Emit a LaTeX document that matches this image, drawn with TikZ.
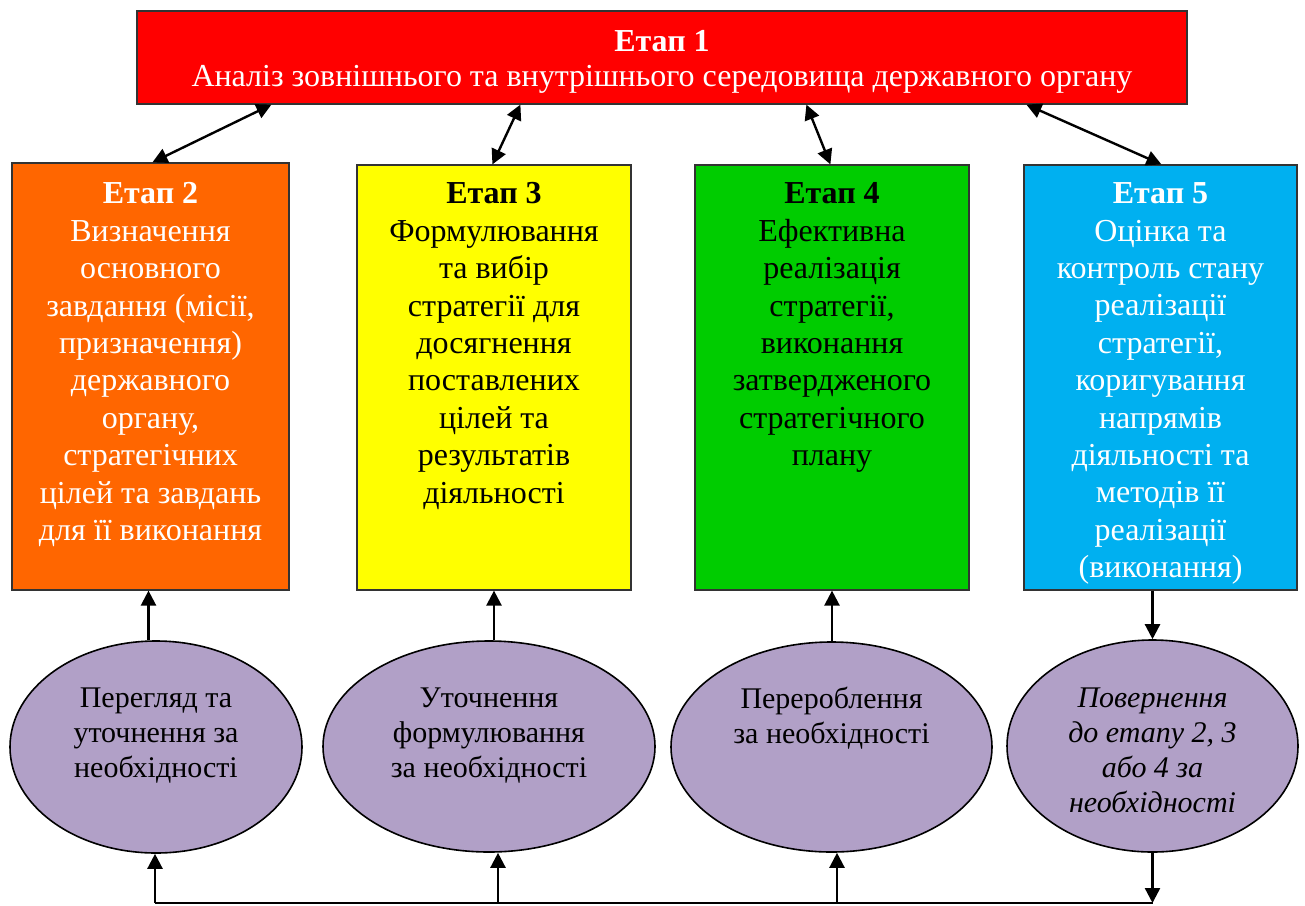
\documentclass[tikz,border=0pt]{standalone}
\usepackage{fontspec}
\setmainfont{Liberation Serif}
\usetikzlibrary{arrows.meta,shapes.geometric,calc}
\definecolor{cRed}{HTML}{FF0000}
\definecolor{cOrange}{HTML}{FF6600}
\definecolor{cYellow}{HTML}{FFFF00}
\definecolor{cGreen}{HTML}{00CC00}
\definecolor{cBlue}{HTML}{00B0F0}
\definecolor{cLav}{HTML}{B1A0C7}
\definecolor{cBorder}{HTML}{333333}
\tikzset{
  x=0.5pt, y=-0.5pt,
  stagebox/.style={draw=cBorder, line width=0.6pt, inner sep=0pt, rectangle},
  ovalbox/.style={draw=black, line width=0.8pt, ellipse, inner sep=0pt, fill=cLav},
  boxtext/.style={inner sep=0pt, align=center, anchor=north, font=\fontsize{16}{18.7}\selectfont},
  ovaltext/.style={inner sep=0pt, align=center, anchor=north, font=\fontsize{15}{17.5}\selectfont},
  arr/.style={line width=1.2pt, -{Triangle[length=7.5pt,width=7.5pt]}},
  dblarr/.style={line width=1.2pt, {Triangle[length=7.5pt,width=7.5pt]}-{Triangle[length=7.5pt,width=7.5pt]}},
  plainline/.style={line width=1.2pt}
}
\begin{document}
\begin{tikzpicture}
\useasboundingbox (0,0) rectangle (1305,905);
% top box
\node[stagebox, fill=cRed, minimum width=525pt, minimum height=46.5pt] (s1) at (662,57.5) {};
\node[text=white, align=center, inner sep=0pt, font=\fontsize{16}{17.5}\selectfont] (t1) at ([yshift=-2pt]s1.center)
  {\textbf{Етап 1}\\Аналіз зовнішнього та внутрішнього середовища державного органу};
% stage boxes
\node[stagebox, fill=cOrange, minimum width=138.5pt, minimum height=213.5pt] (s2) at (150.5,376.5) {};
\node[stagebox, fill=cYellow, minimum width=137pt, minimum height=212.5pt] (s3) at (494,377.5) {};
\node[stagebox, fill=cGreen, minimum width=137pt, minimum height=212.5pt] (s4) at (832,377.5) {};
\node[stagebox, fill=cBlue, minimum width=136.5pt, minimum height=212.5pt] (s5) at (1160.5,377.5) {};
\node[boxtext, text=white] (t2) at ([yshift=-10pt]s2.north)
  {\textbf{Етап 2}\\Визначення\\основного\\завдання (місії,\\призначення)\\державного\\органу,\\стратегічних\\цілей та завдань\\для її виконання};
\node[boxtext, text=black] (t3) at ([yshift=-9pt]s3.north)
  {\textbf{Етап 3}\\Формулювання\\та вибір\\стратегії для\\досягнення\\поставлених\\цілей та\\результатів\\діяльності};
\node[boxtext, text=black] (t4) at ([yshift=-9pt]s4.north)
  {\textbf{Етап 4}\\Ефективна\\реалізація\\стратегії,\\виконання\\затвердженого\\стратегічного\\плану};
\node[boxtext, text=white] (t5) at ([yshift=-9pt]s5.north)
  {\textbf{Етап 5}\\Оцінка та\\контроль стану\\реалізації\\стратегії,\\коригування\\напрямів\\діяльності та\\методів її\\реалізації\\(виконання)};
% ellipses
\node[ovalbox, minimum width=146pt, minimum height=106pt] (e1) at (156,747) {};
\node[ovalbox, minimum width=166pt, minimum height=105.5pt] (e2) at (489,746.5) {};
\node[ovalbox, minimum width=160.5pt, minimum height=105pt] (e3) at (831.5,747) {};
\node[ovalbox, minimum width=145.5pt, minimum height=106pt] (e4) at (1152.5,746) {};
\node[ovaltext] (o1) at (156,687) {Перегляд та\\уточнення за\\необхідності};
\node[ovaltext] (o2) at (489,687) {Уточнення\\формулювання\\за необхідності};
\node[ovaltext] (o3) at (831.5,687) {Перероблення\\за необхідності};
\node[ovaltext, font=\fontsize{15}{17.5}\selectfont\itshape] (o4) at (1152.5,687) {Повернення\\до етапу 2, 3\\або 4 за\\необхідності};
% top double arrows
\draw[dblarr] ([xshift=67.5pt]s1.south west) -- ([xshift=70.5pt]s2.north west);
\draw[dblarr] ([xshift=192pt]s1.south west) -- ([xshift=68pt]s3.north west);
\draw[dblarr] ([xshift=335pt]s1.south west) -- ([xshift=68pt]s4.north west);
\draw[dblarr] ([xshift=445pt]s1.south west) -- ([xshift=69pt]s5.north west);
% ellipse to box arrows
\draw[arr] ([xshift=-1pt]s2.south |- e1.north) -- ([xshift=-1pt]s2.south);
\draw[arr] (s3.south |- e2.north) -- (s3.south);
\draw[arr] (s4.south |- e3.north) -- (s4.south);
\draw[arr] (s5.south -| e4.north) -- (e4.north);
% bottom loop
\coordinate (c1) at (155,903);
\coordinate (c2) at (498,903);
\coordinate (c3) at (837,903);
\coordinate (c4) at (1152.5,903);
\draw[plainline] (c1) -- (c4);
\draw[arr] (e4.south) -- (c4);
\draw[arr] (c1) -- (c1 |- e1.south);
\draw[arr] (c2) -- (c2 |- e2.south);
\draw[arr] (c3) -- (c3 |- e3.south);
\end{tikzpicture}
\end{document}
